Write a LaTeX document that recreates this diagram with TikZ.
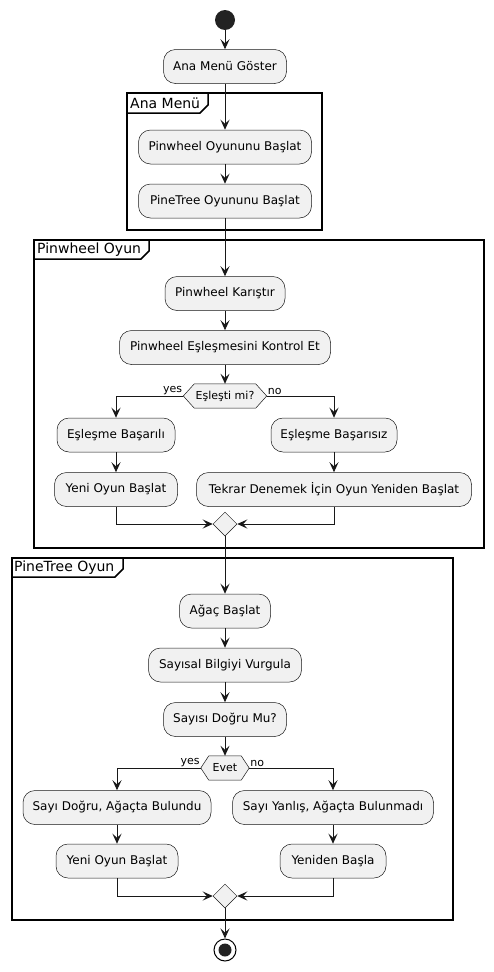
\documentclass[tikz,border=0pt]{standalone}
\usepackage{fontspec}
\setmainfont{DejaVu Sans}
\usetikzlibrary{arrows.meta,shapes.geometric,backgrounds,calc}
\definecolor{boxfill}{HTML}{F1F1F1}
\definecolor{lncol}{HTML}{181818}
\definecolor{startcol}{HTML}{222222}
\begin{document}
\begin{tikzpicture}[x=1pt,y=-1pt,
  act/.style={draw=lncol,line width=0.5pt,fill=boxfill,rounded corners=12pt,minimum height=34pt,inner sep=0pt,font=\fontsize{12}{14}\selectfont},
  hexnode/.style={minimum height=24pt,inner sep=0pt,font=\fontsize{11}{13}\selectfont},
  hexshape/.style={draw=lncol,line width=0.5pt,fill=boxfill},
  merge/.style={diamond,draw=lncol,line width=0.5pt,fill=boxfill,minimum width=24pt,minimum height=24pt,inner sep=0pt},
  arr/.style={draw=lncol,line width=1pt,-{Stealth[length=10pt,width=9pt,inset=4pt]}},
  frameline/.style={draw=black,line width=1.5pt},
  frametitle/.style={anchor=west,inner sep=0pt,font=\fontsize{14}{16}\selectfont},
  lbl/.style={inner sep=1pt,font=\fontsize{11}{13}\selectfont}]
\useasboundingbox (0,0) rectangle (493,972);
% frames
\draw[frameline] (127,93) rectangle (322,230);
\draw[frameline] (127,113) -- (200,113) -- (208,105) -- (208,93);
\node[frametitle] (t1) at (130,103) {Ana Menü};
\draw[frameline] (34,240) rectangle (484,548);
\draw[frameline] (34,259) -- (141,259) -- (149,251) -- (149,240);
\node[frametitle] (t2) at (37,249.5) {Pinwheel Oyun};
\draw[frameline] (12,558) rectangle (453,920);
\draw[frameline] (12,577) -- (115,577) -- (123,569) -- (123,558);
\node[frametitle] (t3) at (14,567.5) {PineTree Oyun};
% start
\node[circle,fill=startcol,minimum size=20pt,inner sep=0pt] (start) at (225,20) {};
% nodes
\node[act,minimum width=123pt] (g) at (225,66.5) {Ana Menü Göster};
\node[act,minimum width=173pt] (p1) at (225,147) {Pinwheel Oyununu Başlat};
\node[act,minimum width=173pt] (p2) at (225,201) {PineTree Oyununu Başlat};
\node[act,minimum width=120pt] (k) at (225,293.5) {Pinwheel Karıştır};
\node[act,minimum width=211pt] (e) at (225,347.5) {Pinwheel Eşleşmesini Kontrol Et};
\node[hexnode,minimum width=83pt] (d1) at (225,396) {Eşleşti mi?};
\node[act,minimum width=118pt] (s) at (116,435) {Eşleşme Başarılı};
\node[act,minimum width=123pt] (y1) at (116,489.5) {Yeni Oyun Başlat};
\node[act,minimum width=126pt] (f) at (334,435) {Eşleşme Başarısız};
\node[act,minimum width=275pt] (t) at (334,489.5) {Tekrar Denemek İçin Oyun Yeniden Başlat};
\node[merge] (m1) at (225,524) {};
\node[act,minimum width=91pt] (a) at (225,611) {Ağaç Başlat};
\node[act,minimum width=153pt] (sb) at (225,665) {Sayısal Bilgiyi Vurgula};
\node[act,minimum width=123pt] (sd) at (225,719.5) {Sayısı Doğru Mu?};
\node[hexnode,minimum width=48pt] (d2) at (225,768) {Evet};
\node[act,minimum width=188pt] (sy) at (117,807.5) {Sayı Doğru, Ağaçta Bulundu};
\node[act,minimum width=122pt] (y2) at (117,861) {Yeni Oyun Başlat};
\node[act,minimum width=201pt] (sn) at (333,807.5) {Sayı Yanlış, Ağaçta Bulunmadı};
\node[act,minimum width=106pt] (yb) at (333,861) {Yeniden Başla};
\node[merge] (m2) at (225,896) {};
\node[circle,draw=black,line width=1pt,fill=white,minimum size=22pt,inner sep=0pt] (end) at (225,950) {};
\node[circle,fill=startcol,minimum size=13pt,inner sep=0pt] (endin) at (225,950) {};
% hexagon shapes
\begin{scope}[on background layer]
\path[hexshape] (d1.west) -- ($(d1.north west)+(11,0)$) -- ($(d1.north east)+(-11,0)$) -- (d1.east) -- ($(d1.south east)+(-11,0)$) -- ($(d1.south west)+(11,0)$) -- cycle;
\path[hexshape] (d2.west) -- ($(d2.north west)+(8,0)$) -- ($(d2.north east)+(-8,0)$) -- (d2.east) -- ($(d2.south east)+(-8,0)$) -- ($(d2.south west)+(8,0)$) -- cycle;
\end{scope}
% labels
\node[lbl,anchor=south east] (yes1) at (d1.west) {yes};
\node[lbl,anchor=south west] (no1) at (d1.east) {no};
\node[lbl,anchor=south east] (yes2) at (d2.west) {yes};
\node[lbl,anchor=south west] (no2) at (d2.east) {no};
% connectors
\draw[arr] (start) -- (g);
\draw[arr] (g) -- (p1);
\draw[arr] (p1) -- (p2);
\draw[arr] (p2) -- (k);
\draw[arr] (k) -- (e);
\draw[arr] (e) -- (d1);
\draw[arr] (d1.west) -| (s.north);
\draw[arr] (d1.east) -| (f.north);
\draw[arr] (s) -- (y1);
\draw[arr] (f) -- (t);
\draw[arr] (y1.south) |- (m1.west);
\draw[arr] (t.south) |- (m1.east);
\draw[arr] (m1) -- (a);
\draw[arr] (a) -- (sb);
\draw[arr] (sb) -- (sd);
\draw[arr] (sd) -- (d2);
\draw[arr] (d2.west) -| (sy.north);
\draw[arr] (d2.east) -| (sn.north);
\draw[arr] (sy) -- (y2);
\draw[arr] (sn) -- (yb);
\draw[arr] (y2.south) |- (m2.west);
\draw[arr] (yb.south) |- (m2.east);
\draw[arr] (m2) -- (end);
\end{tikzpicture}
\end{document}
